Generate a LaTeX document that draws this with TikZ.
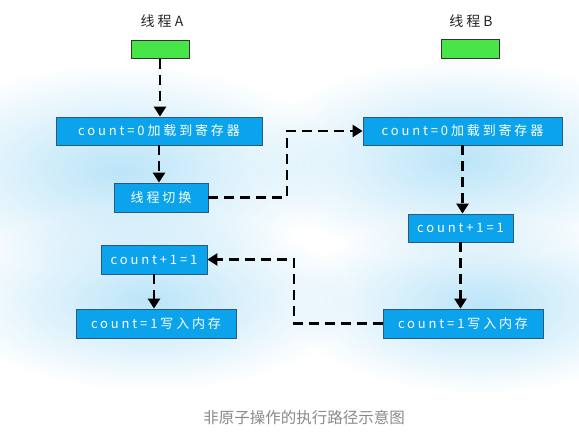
\documentclass[tikz,border=0pt]{standalone}
\usepackage{fontspec}
\usetikzlibrary{arrows.meta,fadings}
\newfontfamily\handfont[LetterSpace=22]{Noto Sans CJK SC}
\newfontfamily\capfont{Noto Sans CJK SC}
\definecolor{boxblue}{HTML}{0AA3EC}
\definecolor{boxedge}{HTML}{2B5A7A}
\definecolor{thgreen}{HTML}{48E548}
\definecolor{glowc}{HTML}{B4E2F8}
\definecolor{capgray}{HTML}{8A8A8A}
\tikzfading[name=glowfade, inner color=transparent!10, outer color=transparent!100]
\begin{document}
\begin{tikzpicture}[x=1pt,y=-1pt,
 opbox/.style={draw=boxedge, line width=0.8pt, fill=boxblue, text=white, font=\handfont\fontsize{13}{15}\selectfont, inner sep=0pt},
 thbox/.style={draw=black!80, line width=0.8pt, fill=thgreen, minimum width=58pt, minimum height=18pt, inner sep=0pt},
 thlabel/.style={font=\handfont\fontsize{14}{16}\selectfont, text=black!85},
 flow/.style={draw=black, line width=2.6pt, dash pattern=on 10pt off 6pt, -{Triangle[width=12pt,length=10pt]}},
 glow/.style={fill=glowc, path fading=glowfade}]
\useasboundingbox (0,0) rectangle (579,435);
\fill[white] (0,0) rectangle (579,435);
% soft glow
\fill[glow] (120,170) ellipse [x radius=220pt, y radius=105pt];
\fill[glow] (150,300) ellipse [x radius=200pt, y radius=90pt];
\fill[glow] (460,160) ellipse [x radius=205pt, y radius=100pt];
\fill[glow] (480,305) ellipse [x radius=190pt, y radius=88pt];
% thread labels and starts
\node[thlabel] (lA) at (162,21) {线程A};
\node[thlabel] (lB) at (471,21) {线程B};
\node[thbox] (gA) at (160,49.5) {};
\node[thbox, minimum height=19pt] (gB) at (470.5,48.5) {};
% operation boxes
\node[opbox, minimum width=206pt, minimum height=28pt] (A1) at (159,131) {count=0加载到寄存器};
\node[opbox, minimum width=94pt, minimum height=29pt] (A2) at (161,197.5) {线程切换};
\node[opbox, minimum width=106pt, minimum height=29pt] (A3) at (154,259.5) {count+1=1};
\node[opbox, minimum width=160pt, minimum height=29pt] (A4) at (156,323.5) {count=1写入内存};
\node[opbox, minimum width=199pt, minimum height=28pt] (B1) at (462.5,131) {count=0加载到寄存器};
\node[opbox, minimum width=105pt, minimum height=28pt] (B2) at (460.5,228) {count+1=1};
\node[opbox, minimum width=160pt, minimum height=29pt] (B3) at (463,323.5) {count=1写入内存};
\coordinate (k1) at (287,0);
\coordinate (k2) at (294,0);
% connectors
\draw[flow] (gA.south) -- (gA.south |- A1.north);
\draw[flow] (A1.south) -- (A1.south |- A2.north);
\draw[flow] (A2.east) -| (k1 |- B1.west) -- (B1.west);
\draw[flow] (B1.south) -- (B1.south |- B2.north);
\draw[flow] (B2.south) -- (B2.south |- B3.north);
\draw[flow] (B3.west) -| (k2 |- A3.east) -- (A3.east);
\draw[flow] (A3.south) -- (A3.south |- A4.north);
% caption
\node[font=\capfont\fontsize{15.5}{17}\selectfont, text=capgray] (cap) at (304,418) {非原子操作的执行路径示意图};
\end{tikzpicture}
\end{document}
